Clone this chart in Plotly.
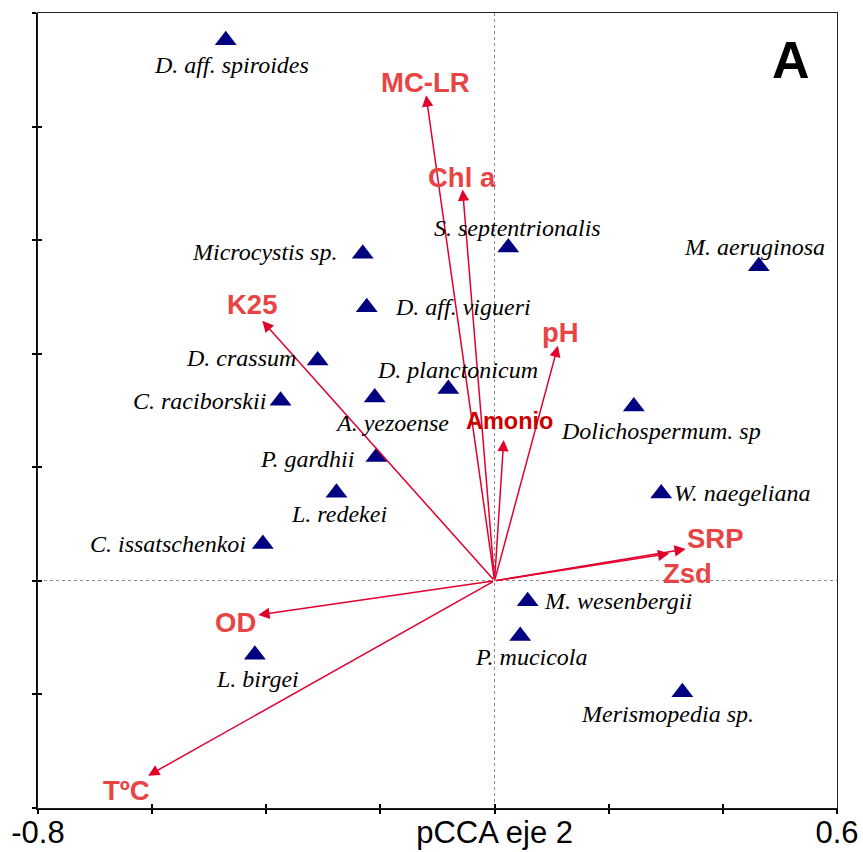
import plotly.graph_objects as go

# ---------------- data ----------------
species = ["D. aff. spiroides", "S. septentrionalis", "M. aeruginosa", "Microcystis sp.",
           "D. aff. vigueri", "D. crassum", "D. planctonicum", "C. raciborskii",
           "A. yezoense", "Dolichospermum. sp", "P. gardhii", "W. naegeliana",
           "L. redekei", "C. issatschenkoi", "M. wesenbergii", "P. mucicola",
           "L. birgei", "Merismopedia sp."]
species_x = [-0.471, 0.024, 0.463, -0.231, -0.224, -0.310, -0.081, -0.375, -0.210,
             0.244, -0.207, 0.292, -0.277, -0.406, 0.058, 0.045, -0.420, 0.329]
species_y = [0.952, 0.587, 0.554, 0.576, 0.482, 0.388, 0.338, 0.317, 0.323,
             0.307, 0.218, 0.154, 0.155, 0.065, -0.036, -0.097, -0.130, -0.196]

variables = ["MC-LR", "Chl a", "K25", "pH", "Amonio", "SRP", "Zsd", "OD", "TºC"]
var_x = [-0.120, -0.056, -0.407, 0.111, 0.016, 0.335, 0.306, -0.414, -0.607]
var_y = [0.855, 0.689, 0.458, 0.414, 0.248, 0.056, 0.048, -0.060, -0.343]

x_ticks = [-0.8, -0.6, -0.4, -0.2, 0.0, 0.2, 0.4, 0.6]
y_ticks = [-0.4, -0.2, 0.0, 0.2, 0.4, 0.6, 0.8, 1.0]
x_label_vals = [-0.8, 0.0, 0.6]
x_label_text = ["-0.8", "pCCA eje 2", "0.6"]
panel_label = "A"

# ---------------- styles ----------------
# label placement (pixels) relative to point: (xanchor, xshift, yshift)
species_label_pos = [("center", 6, -25), ("center", 9, 20), ("center", -4, 19),
                     ("right", -24, 2), ("left", 26, 0), ("right", -20, 3),
                     ("center", 9, 19), ("right", -13, 0), ("center", 17, -26),
                     ("center", 27, -24), ("right", -20, -2), ("left", 11, 0),
                     ("center", 3, -21), ("right", -15, 0), ("left", 14, 0),
                     ("center", 11, -21), ("center", 3, -24), ("center", -15, -22)]
var_label_pos = [(-1, 13), (-1, 12), (-10, 16), (3, 13), (6, 19), (30, 11),
                 (18, -20), (-23, -8), (-22, -15)]
var_label_size = [27.5, 27.5, 27.5, 27.5, 23.5, 27.5, 27.5, 27.5, 27.5]
var_label_color = ["#E84444"] * 4 + ["#CC0000"] + ["#E84444"] * 4
arrow_color = "#E2002C"
marker_color = "#000080"
sans = "Arial, Liberation Sans, sans-serif"
serif = "Times New Roman, Liberation Serif, serif"

fig = go.Figure()
fig.add_trace(go.Scatter(x=species_x, y=species_y, mode="markers",
                         marker=dict(symbol="triangle-up", size=19, color=marker_color),
                         hoverinfo="text", text=species, showlegend=False))
# dummy traces so overlay axes render
fig.add_trace(go.Scatter(x=[None], y=[None], xaxis="x2", yaxis="y2", showlegend=False))
fig.add_trace(go.Scatter(x=[None], y=[None], xaxis="x3", yaxis="y3", showlegend=False))

annotations = []
for i, name in enumerate(variables):
    annotations.append(dict(x=var_x[i], y=var_y[i], ax=0, ay=0, xref="x", yref="y",
                            axref="x", ayref="y", text="", showarrow=True,
                            arrowhead=2, arrowsize=1.5, arrowwidth=1.5,
                            arrowcolor=arrow_color, standoff=0, startstandoff=0))
    dx, dy = var_label_pos[i]
    annotations.append(dict(x=var_x[i], y=var_y[i], xref="x", yref="y", text="<b>%s</b>" % name,
                            showarrow=False, xshift=dx, yshift=dy, xanchor="center",
                            yanchor="middle",
                            font=dict(family=sans, size=var_label_size[i], color=var_label_color[i])))
for i, name in enumerate(species):
    anc, dx, dy = species_label_pos[i]
    annotations.append(dict(x=species_x[i], y=species_y[i], xref="x", yref="y", text=name,
                            showarrow=False, xshift=dx, yshift=dy, xanchor=anc, yanchor="middle",
                            font=dict(family=serif, size=24, color="black", style="italic")))
annotations.append(dict(x=0.943, y=0.941, xref="x domain", yref="y domain", text="<b>%s</b>" % panel_label,
                        showarrow=False, xanchor="center", yanchor="middle",
                        font=dict(family=sans, size=52, color="black")))

xr = [-0.8, 0.6]
yr = [-0.4, 1.0]
common = dict(automargin=False, zeroline=False)
fig.update_layout(
    width=863, height=852,
    margin=dict(l=38, r=26, t=13, b=44, autoexpand=False),
    paper_bgcolor="white", plot_bgcolor="white",
    showlegend=False,
    annotations=annotations,
    xaxis=dict(range=xr, tickvals=x_ticks, ticks="outside", ticklen=4, tickwidth=1.5,
               tickcolor="black", showticklabels=False, showline=True, linewidth=2,
               linecolor="black", showgrid=False, **common),
    yaxis=dict(range=yr, tickvals=y_ticks, ticks="outside", ticklen=4, tickwidth=1.5,
               tickcolor="black", showticklabels=False, showline=True, linewidth=2,
               linecolor="black", showgrid=False, **common),
    xaxis2=dict(range=xr, overlaying="x", anchor="y", side="bottom",
                tickvals=x_label_vals, ticktext=x_label_text, ticks="",
                tickfont=dict(family=sans, size=31, color="black"), ticklabelstandoff=3,
                showline=False, showgrid=True, gridcolor="#8a8a8a", gridwidth=1,
                griddash="dot", **common),
    yaxis2=dict(range=yr, overlaying="y", anchor="x", side="left",
                tickvals=[0.0], showticklabels=False, ticks="",
                showline=False, showgrid=True, gridcolor="#8a8a8a", gridwidth=1,
                griddash="dot", **common),
    xaxis3=dict(range=xr, overlaying="x", anchor="y", side="bottom",
                tickvals=x_ticks, ticks="inside", ticklen=4, tickwidth=1.5, tickcolor="black",
                showticklabels=False, showline=True, linewidth=1.3, linecolor="#222222",
                mirror=True, showgrid=False, **common),
    yaxis3=dict(range=yr, overlaying="y", anchor="x", side="left",
                tickvals=y_ticks, ticks="inside", ticklen=4, tickwidth=1.5, tickcolor="black",
                showticklabels=False, showline=True, linewidth=1.3, linecolor="#222222",
                mirror=True, showgrid=False, **common),
)

fig.write_html("out.html", config={"displayModeBar": False},
               post_script="document.body.style.margin='0';document.body.style.overflow='hidden';")
